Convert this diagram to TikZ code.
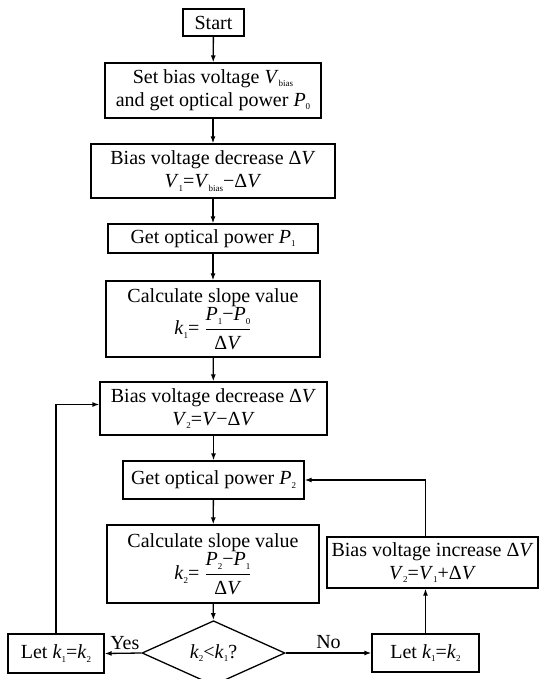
\documentclass[tikz,border=0pt]{standalone}
\usepackage{fontspec}
\setmainfont{Liberation Serif}
\usetikzlibrary{arrows.meta,shapes.geometric}
\newcommand{\ix}[1]{\raisebox{-0.35ex}{\fontsize{9}{9}\selectfont #1}}
\newcommand{\vv}[1]{\textit{#1}}
\newcommand{\slopefrac}[2]{$\displaystyle\frac{\mbox{\vv{P}\ix{#1}−\vv{P}\ix{#2}}}{\mbox{Δ\vv{V}}}$}

\begin{document}
\begin{tikzpicture}[x=1pt,y=-1pt,line width=1.3pt,
  font=\fontsize{20}{23}\selectfont,
  box/.style={draw,align=center,inner sep=2pt},
  arr/.style={-{Latex[length=7pt,width=5pt]}}]
\useasboundingbox (0,0) rectangle (539,679);

% main column
\node[box,minimum width=61,minimum height=27] (start) at (213.5,22.5) {Start};
\node[box,minimum width=216,minimum height=55] (setV) at (213,90.5)
  {Set bias voltage \vv{V}\ix{bias}\\and get optical power \vv{P}\ix{0}};
\node[box,minimum width=244,minimum height=54] (decA) at (213,171)
  {Bias voltage decrease Δ\vv{V}\\\vv{V}\ix{1}=\vv{V}\ix{bias}−Δ\vv{V}};
\node[box,minimum width=210,minimum height=29] (getP1) at (213,238.5)
  {Get optical power \vv{P}\ix{1}};
\node[box,minimum width=214,minimum height=76] (slopeA) at (213,319)
  {Calculate slope value\\\vv{k}\ix{1}= \slopefrac{1}{0}};
\node[box,minimum width=227,minimum height=53] (decB) at (213.5,408.5)
  {Bias voltage decrease Δ\vv{V}\\\vv{V}\ix{2}=\vv{V}−Δ\vv{V}};
\node[box,minimum width=181,minimum height=38] (getP2) at (213.5,480)
  {Get optical power \vv{P}\ix{2}};
\node[box,minimum width=212,minimum height=78] (slopeB) at (213,564)
  {Calculate slope value\\\vv{k}\ix{2}= \slopefrac{2}{1}};
\node[draw,diamond,inner sep=0pt,minimum width=143,minimum height=52] (test) at (213.5,653)
  {\vv{k}\ix{2}<\vv{k}\ix{1}?};

% side boxes
\node[box,minimum width=96,minimum height=39] (letA) at (56,653.5) {Let \vv{k}\ix{1}=\vv{k}\ix{2}};
\node[box,minimum width=107,minimum height=38] (letB) at (425.5,653) {Let \vv{k}\ix{1}=\vv{k}\ix{2}};
\node[box,minimum width=211,minimum height=51] (incV) at (432.5,562.5)
  {Bias voltage increase Δ\vv{V}\\\vv{V}\ix{2}=\vv{V}\ix{1}+Δ\vv{V}};

% connectors
\draw[arr] (start) -- (setV);
\draw[arr] (setV) -- (decA);
\draw[arr] (decA) -- (getP1);
\draw[arr] (getP1) -- (slopeA);
\draw[arr] (slopeA) -- (decB);
\draw[arr] (decB) -- (getP2);
\draw[arr] (getP2) -- (slopeB);
\draw[arr] (slopeB) -- (test);
\draw[arr] (test.west) -- node[above,pos=0.45] {Yes} (letA.east);
\draw[arr] (test.east) -- node[above,pos=0.5] {No} (letB.west);
\draw[arr] (letA.north) |- ([yshift=4pt]decB.west);
\draw[arr] (letB.north) -- (letB.north |- incV.south);
\draw[arr] (letB.north |- incV.north) |- (getP2.east);

\end{tikzpicture}
\end{document}
